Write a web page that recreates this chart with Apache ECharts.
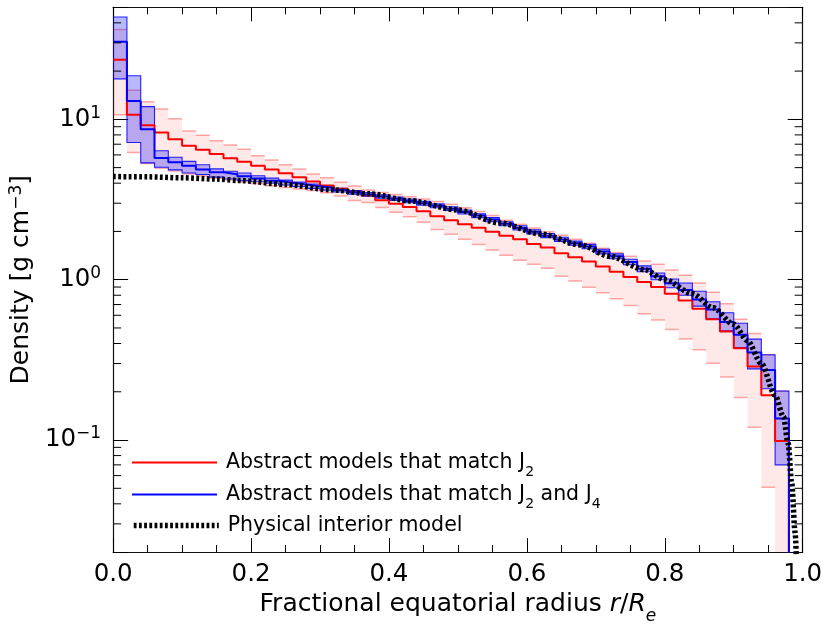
<!DOCTYPE html>
<html><head><meta charset="utf-8">
<script src="https://cdn.jsdelivr.net/npm/echarts@6/dist/echarts.min.js"></script>
<style>html,body{margin:0;padding:0;background:#fff}#c{width:831px;height:630px}</style>
</head><body><div id="c"></div>
<script>
// Bin edges (fractional equatorial radius)
const binEdges = [0,0.02,0.04,0.06,0.08,0.10,0.12,0.14,0.16,0.18,0.20,0.22,0.24,0.26,0.28,0.30,0.32,0.34,0.36,0.38,0.40,0.42,0.44,0.46,0.48,0.50,0.52,0.54,0.56,0.58,0.60,0.62,0.64,0.66,0.68,0.70,0.72,0.74,0.76,0.78,0.80,0.82,0.84,0.86,0.88,0.90,0.92,0.94,0.96,0.98];

// Abstract models matching J2 (red): median, upper, lower density per bin
const redMid = [23.5,10.7,9.18,8.27,7.52,6.84,6.46,6.08,5.72,5.45,5.14,4.86,4.61,4.36,4.09,3.87,3.69,3.52,3.36,3.13,2.98,2.84,2.67,2.49,2.35,2.22,2.11,1.99,1.88,1.79,1.67,1.59,1.46,1.38,1.30,1.21,1.12,1.04,0.968,0.902,0.816,0.742,0.659,0.566,0.475,0.374,0.288,0.190,0.0986];
const redHi = [36.4,15.2,12.9,11.6,10.1,8.47,7.96,7.35,6.93,6.52,5.93,5.57,5.21,4.91,4.57,4.32,4.06,3.84,3.63,3.50,3.40,3.29,3.19,3.07,2.95,2.81,2.66,2.51,2.35,2.22,2.10,1.99,1.89,1.79,1.69,1.57,1.48,1.40,1.31,1.25,1.15,1.065,0.954,0.836,0.708,0.566,0.462,0.340,0.202];
const redLo = [10.7,6.22,5.30,4.95,4.76,4.56,4.44,4.29,4.18,4.07,3.96,3.86,3.76,3.68,3.60,3.48,3.33,3.12,3.03,2.82,2.63,2.47,2.28,2.06,1.92,1.79,1.66,1.53,1.42,1.32,1.25,1.18,1.05,0.98,0.897,0.828,0.760,0.691,0.614,0.561,0.489,0.426,0.366,0.301,0.247,0.184,0.120,0.0508,0.005];

// Abstract models matching J2 and J4 (blue)
const blueMid = [30.5,13.0,8.67,5.74,5.40,5.14,4.86,4.68,4.55,4.42,4.27,4.14,4.03,3.93,3.83,3.73,3.62,3.51,3.40,3.30,3.20,3.10,3.00,2.89,2.77,2.64,2.51,2.37,2.23,2.10,1.99,1.88,1.78,1.69,1.61,1.50,1.40,1.29,1.17,1.05,0.95,0.864,0.752,0.652,0.545,0.453,0.352,0.273,0.136];
const blueHi = [43.5,18.7,12.0,6.37,5.80,5.47,5.21,4.91,4.75,4.63,4.45,4.30,4.18,4.06,3.95,3.83,3.71,3.60,3.49,3.38,3.28,3.18,3.08,2.97,2.85,2.72,2.58,2.44,2.30,2.17,2.05,1.94,1.84,1.74,1.66,1.55,1.45,1.34,1.22,1.10,1.01,0.954,0.847,0.728,0.622,0.535,0.426,0.340,0.202];
const blueLo = [17.9,7.18,5.35,5.03,4.84,4.63,4.53,4.36,4.25,4.15,4.08,4.00,3.90,3.81,3.71,3.62,3.52,3.42,3.32,3.22,3.12,3.02,2.92,2.81,2.70,2.57,2.44,2.30,2.17,2.04,1.93,1.83,1.73,1.64,1.56,1.45,1.35,1.24,1.12,1.00,0.89,0.80,0.684,0.571,0.480,0.378,0.278,0.209,0.070];

// Physical interior model
const physX = [0,0.05,0.10,0.15,0.185,0.25,0.315,0.373,0.431,0.50,0.56,0.62,0.678,0.72,0.771,0.80,0.84,0.87,0.90,0.92,0.94,0.96,0.972,0.979,0.984,0.989,0.992,0.995];
const physY = [4.40,4.38,4.32,4.24,4.15,3.93,3.64,3.43,3.10,2.72,2.26,1.93,1.646,1.40,1.153,1.00,0.817,0.668,0.527,0.416,0.30,0.19,0.14,0.095,0.054,0.0265,0.015,0.008];

// Axis ticks
const xTicks = [0,0.2,0.4,0.6,0.8,1.0];
const yMinorTicks = [0.03,0.04,0.05,0.06,0.07,0.08,0.09,0.2,0.3,0.4,0.5,0.6,0.7,0.8,0.9,2,3,4,5,6,7,8,9,20,30,40];

const FONT = 'DejaVu Sans';
const chart = echarts.init(document.getElementById('c'), null, {renderer: 'canvas'});

function edgeOf(i) { return binEdges[i + 1] !== undefined ? binEdges[i + 1] : 0.98; }
function stepData(vals, drop) {
  const d = [];
  for (let i = 0; i < vals.length; i++) {
    d.push([binEdges[i], vals[i]]);
    d.push([edgeOf(i), vals[i]]);
  }
  if (drop !== undefined) d.push([d[d.length - 1][0], drop]);
  return d;
}
function bandRender(lo, hi, fill, stroke, lw) {
  return function (params, api) {
    const pts = [];
    for (let i = 0; i < hi.length; i++) {
      pts.push(api.coord([binEdges[i], hi[i]]));
      pts.push(api.coord([edgeOf(i), hi[i]]));
    }
    for (let i = lo.length - 1; i >= 0; i--) {
      pts.push(api.coord([edgeOf(i), lo[i]]));
      pts.push(api.coord([binEdges[i], lo[i]]));
    }
    return {type: 'polygon', shape: {points: pts}, style: {fill: fill, stroke: stroke, lineWidth: lw}};
  };
}
function segData(vals) {
  return vals.map((v, i) => [binEdges[i], edgeOf(i), v]);
}
const names = {
  r: 'Abstract models that match J{sub|2}',
  b: 'Abstract models that match J{sub|2} and J{sub|4}',
  p: 'Physical interior model'
};
const legendText = {
  fontFamily: FONT, fontSize: 20.5, color: '#000', padding: [0, 0, 0, 4],
  rich: {sub: {fontFamily: FONT, fontSize: 14, verticalAlign: 'bottom', lineHeight: 12, padding: [0, 0, -6, 0]}}
};
function mkLegend(name, top, lineStyle) {
  return {data: [name], left: 131, top: top, itemWidth: 85, itemHeight: 14, padding: 0,
    selectedMode: false, formatter: n => names[n], textStyle: legendText,
    itemStyle: {opacity: 0, borderWidth: 0}, lineStyle: lineStyle};
}
const yFmt = v => {
  const l = Math.log10(v); const e = Math.round(l);
  if (Math.abs(l - e) > 1e-6) return '';
  return '10{sup|' + (e < 0 ? '\u2212' + (-e) : e) + '}';
};
const tickColor = '#000';
const axisLineStyle = {color: '#111', width: 1.2};
const dotted = {color: '#000', width: 5.5, type: [2.8, 2.4], cap: 'butt'};

chart.setOption({
  animation: false,
  backgroundColor: '#fff',
  grid: {left: 112.7, right: 28.3, top: 7.3, bottom: 74, containLabel: false},
  legend: [
    mkLegend('r', 452, {color: '#ff0000', width: 2, opacity: 1}),
    mkLegend('b', 484, {color: '#0000ff', width: 2, opacity: 1}),
    mkLegend('p', 515, {color: '#000', width: 5.5, type: [2.8, 2.4], cap: 'butt', opacity: 1})
  ],
  xAxis: [
    {type: 'value', min: 0, max: 1, interval: 0.2, position: 'bottom',
      name: 'Fractional equatorial radius {i|r}/{i|R}{sub|e}', nameLocation: 'middle', nameGap: 38,
      nameTextStyle: {fontFamily: FONT, fontSize: 25, color: '#000',
        rich: {i: {fontFamily: FONT, fontSize: 25, fontStyle: 'italic'},
               sub: {fontFamily: FONT, fontSize: 17, fontStyle: 'italic', verticalAlign: 'bottom', padding: [0, 0, -8, 0]}}},
      axisLine: {show: true, onZero: false, lineStyle: axisLineStyle},
      axisTick: {show: true, inside: true, length: 14, lineStyle: {color: tickColor, width: 1}},
      minorTick: {show: true, splitNumber: 4, length: 7, lineStyle: {color: tickColor, width: 1}},
      axisLabel: {fontFamily: FONT, fontSize: 24.5, color: '#000', margin: 10, formatter: v => v.toFixed(1)},
      splitLine: {show: false}, minorSplitLine: {show: false}},
    {type: 'value', min: 0, max: 1, interval: 0.2, position: 'top',
      axisLine: {show: true, onZero: false, lineStyle: axisLineStyle},
      axisTick: {show: true, inside: true, length: 14, lineStyle: {color: tickColor, width: 1}},
      minorTick: {show: true, splitNumber: 4, length: 7, lineStyle: {color: tickColor, width: 1}},
      axisLabel: {show: false}, splitLine: {show: false}}
  ],
  yAxis: [
    {type: 'log', logBase: 10, min: 0.02, max: 50, position: 'left',
      name: 'Density [g cm{sup|\u22123}]', nameLocation: 'middle', nameGap: 74, nameRotate: 90,
      nameTextStyle: {fontFamily: FONT, fontSize: 25, color: '#000',
        rich: {sup: {fontFamily: FONT, fontSize: 17, verticalAlign: 'top', padding: [0, 0, 10, 0]}}},
      axisLine: {show: true, onZero: false, lineStyle: axisLineStyle},
      axisTick: {show: true, inside: true, length: 15, lineStyle: {color: tickColor, width: 1}},
      axisLabel: {fontFamily: FONT, fontSize: 24.5, color: '#000', margin: 12, formatter: yFmt,
        rich: {sup: {fontFamily: FONT, fontSize: 17, verticalAlign: 'top', padding: [0, 0, 12, 0]}}},
      splitLine: {show: false}},
    {type: 'log', logBase: 10, min: 0.02, max: 50, position: 'right',
      axisLine: {show: true, onZero: false, lineStyle: axisLineStyle},
      axisTick: {show: true, inside: true, length: 15, lineStyle: {color: tickColor, width: 1}},
      axisLabel: {show: false}, splitLine: {show: false}}
  ],
  series: [
    {type: 'custom', name: 'redBand', clip: true, silent: true, z: 1,
      data: [[0.5, 1]], renderItem: bandRender(redLo, redHi, 'rgba(255,0,0,0.09)', null, 0)},
    {type: 'custom', name: 'redEdges', clip: true, silent: true, z: 2,
      data: segData(redHi).concat(segData(redLo)), encode: {x: [0, 1], y: 2},
      renderItem: function (params, api) {
        const a = api.coord([api.value(0), api.value(2)]);
        const b = api.coord([api.value(1), api.value(2)]);
        return {type: 'line', shape: {x1: a[0], y1: a[1], x2: b[0], y2: b[1]},
          style: {stroke: 'rgba(255,0,0,0.33)', lineWidth: 1.5}};
      }},
    {type: 'custom', name: 'blueBand', clip: true, silent: true, z: 3,
      data: [[0.5, 1]], renderItem: bandRender(blueLo, blueHi, 'rgba(0,0,255,0.28)', 'rgba(0,0,255,0.85)', 1.1)},
    {type: 'line', name: 'r', data: stepData(redMid, 0.001), symbol: 'none', z: 4,
      lineStyle: {color: '#ff0000', width: 2}, itemStyle: {color: '#ff0000'}},
    {type: 'line', name: 'b', data: stepData(blueMid, 0.001), symbol: 'none', z: 5,
      lineStyle: {color: '#0000ff', width: 2}, itemStyle: {color: '#0000ff'}},
    {type: 'line', name: 'p', data: physX.map((x, i) => [x, physY[i]]), symbol: 'none', z: 6,
      smooth: 0.3, smoothMonotone: 'x',
      lineStyle: dotted, itemStyle: {color: '#000'}},
    {type: 'custom', name: 'minorTicks', silent: true, z: 7,
      data: yMinorTicks.map(v => [0, v]),
      renderItem: function (params, api) {
        const l = api.coord([0, api.value(1)]);
        const r = api.coord([1, api.value(1)]);
        const st = {stroke: tickColor, lineWidth: 1};
        return {type: 'group', children: [
          {type: 'line', shape: {x1: l[0], y1: l[1], x2: l[0] + 8, y2: l[1]}, style: st},
          {type: 'line', shape: {x1: r[0] - 8, y1: r[1], x2: r[0], y2: r[1]}, style: st}
        ]};
      }}
  ]
});
</script>
</body></html>
